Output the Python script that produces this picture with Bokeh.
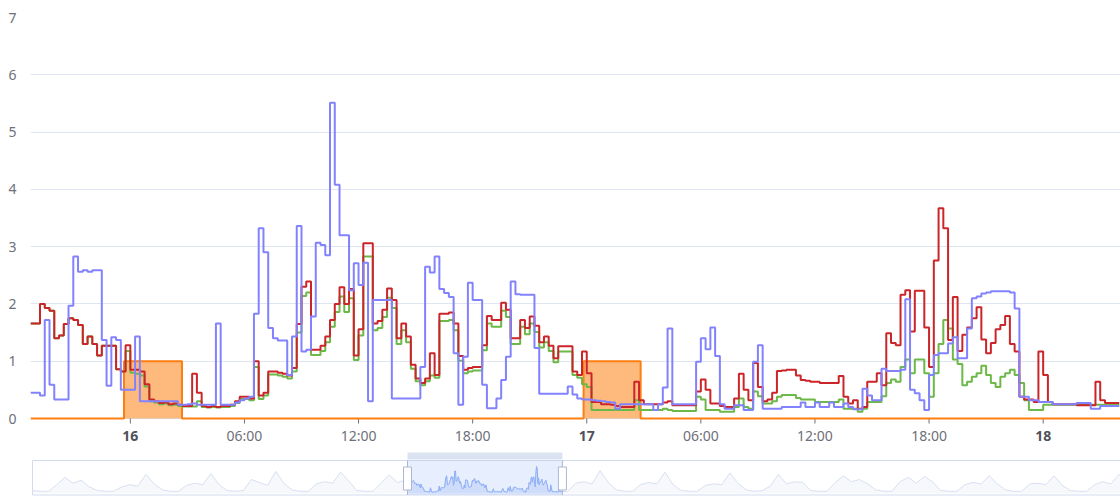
import numpy as np
from bokeh.plotting import figure
from bokeh.models import Range1d, FixedTicker
from bokeh.core.properties import value
from bokeh.layouts import column
from bokeh.embed import file_html
from bokeh.resources import INLINE

# ---------------- data ----------------
START = "2024-01-15T18:45"      # first sample, 15-minute steps
STEP_MINUTES = 15
WINDOW_END = "2024-01-18T04:04"  # right end of the zoom window

RED = [
    1.66, 1.66, 2.0, 1.93, 1.88, 1.4, 1.45, 1.65, 1.75, 1.72,
    1.63, 1.3, 1.43, 1.3, 1.1, 1.27, 1.27, 1.27, 0.86, 0.82,
    1.28, 0.85, 0.85, 0.82, 0.6, 0.33, 0.3, 0.27, 0.28, 0.25,
    0.26, 0.24, 0.22, 0.22, 0.78, 0.45, 0.22, 0.2, 0.22, 0.2,
    0.22, 0.22, 0.24, 0.3, 0.38, 0.38, 0.35, 1.0, 0.4, 0.45,
    0.82, 0.82, 0.8, 0.78, 0.75, 0.88, 1.65, 2.3, 2.39, 1.2,
    1.2, 1.27, 1.43, 1.72, 2.0, 2.29, 2.0, 2.26, 1.1, 1.56,
    3.06, 3.06, 1.66, 1.7, 1.9, 2.27, 2.07, 1.4, 1.66, 1.43,
    0.94, 0.7, 0.62, 0.7, 1.14, 0.76, 1.83, 1.83, 1.85, 1.66,
    1.09, 0.85, 0.88, 0.9, 0.9, 1.28, 1.79, 1.72, 1.72, 2.02,
    1.9, 1.4, 1.4, 1.72, 1.58, 1.78, 1.62, 1.33, 1.43, 1.27,
    1.05, 1.26, 1.26, 1.26, 0.82, 0.76, 1.17, 0.79, 0.29, 0.29,
    0.25, 0.25, 0.24, 0.22, 0.2, 0.2, 0.2, 0.64, 0.32, 0.25,
    0.25, 0.25, 0.25, 0.28, 0.3, 0.23, 0.23, 0.23, 0.23, 0.23,
    0.47, 0.68, 0.5, 0.26, 0.26, 0.22, 0.2, 0.2, 0.35, 0.78,
    0.5, 0.32, 0.97, 0.55, 0.3, 0.33, 0.45, 0.83, 0.84, 0.85,
    0.85, 0.75, 0.67, 0.66, 0.64, 0.64, 0.62, 0.62, 0.62, 0.62,
    0.74, 0.38, 0.26, 0.32, 0.17, 0.2, 0.64, 0.64, 0.79, 0.58,
    1.49, 1.32, 1.28, 2.16, 2.24, 1.52, 2.23, 2.23, 1.59, 0.9,
    2.76, 3.67, 3.32, 1.37, 2.12, 1.18, 1.46, 1.59, 1.75, 1.94,
    1.38, 1.14, 1.32, 1.56, 1.63, 1.79, 1.3, 1.17, 0.38, 0.33,
    0.33, 0.29, 1.17, 0.76, 0.29, 0.25, 0.25, 0.25, 0.25, 0.25,
    0.23, 0.23, 0.23, 0.23, 0.64, 0.32, 0.27, 0.27, 0.27, 0.27,
]

GREEN = [
    1.66, 1.66, 2.0, 1.93, 1.88, 1.4, 1.45, 1.65, 1.75, 1.72,
    1.63, 1.3, 1.43, 1.3, 1.1, 1.27, 1.27, 1.27, 0.86, 0.82,
    1.18, 0.8, 0.78, 0.75, 0.56, 0.3, 0.28, 0.25, 0.26, 0.23,
    0.24, 0.22, 0.21, 0.21, 0.21, 0.3, 0.2, 0.19, 0.2, 0.19,
    0.2, 0.2, 0.22, 0.27, 0.34, 0.34, 0.32, 0.9, 0.34, 0.4,
    0.77, 0.77, 0.75, 0.73, 0.7, 0.82, 1.5, 2.14, 2.2, 1.11,
    1.11, 1.18, 1.33, 1.6, 1.86, 2.13, 1.86, 2.1, 1.02, 1.45,
    2.83, 2.83, 1.54, 1.58, 1.77, 2.11, 1.93, 1.3, 1.54, 1.33,
    0.87, 0.65, 0.58, 0.65, 0.75, 0.71, 1.7, 1.7, 1.72, 1.54,
    1.01, 0.79, 0.82, 0.84, 0.84, 1.19, 1.66, 1.6, 1.6, 1.88,
    1.77, 1.3, 1.3, 1.6, 1.47, 1.66, 1.51, 1.24, 1.33, 1.18,
    0.98, 1.17, 1.17, 1.17, 0.76, 0.71, 0.6, 0.55, 0.15, 0.15,
    0.15, 0.15, 0.15, 0.15, 0.15, 0.15, 0.15, 0.32, 0.15, 0.15,
    0.15, 0.15, 0.15, 0.17, 0.15, 0.13, 0.13, 0.13, 0.13, 0.13,
    0.38, 0.33, 0.15, 0.15, 0.15, 0.12, 0.12, 0.12, 0.2, 0.35,
    0.2, 0.17, 0.47, 0.39, 0.26, 0.26, 0.3, 0.38, 0.41, 0.41,
    0.41, 0.36, 0.33, 0.33, 0.33, 0.29, 0.29, 0.29, 0.29, 0.29,
    0.33, 0.17, 0.17, 0.17, 0.12, 0.17, 0.29, 0.29, 0.29, 0.39,
    0.62, 0.68, 0.64, 0.9, 1.03, 0.79, 1.03, 1.03, 0.79, 0.38,
    0.79, 1.3, 1.72, 1.57, 1.03, 0.95, 0.58, 0.64, 0.73, 0.79,
    0.92, 0.76, 0.62, 0.55, 0.73, 0.79, 0.85, 0.76, 0.62, 0.32,
    0.15, 0.15, 0.15, 0.24, 0.24, 0.24, 0.24, 0.24, 0.24, 0.24,
    0.24, 0.24, 0.24, 0.24, 0.24, 0.24, 0.24, 0.24, 0.24, 0.24,
]

BLUE = [
    0.45, 0.45, 0.4, 1.72, 0.59, 0.33, 0.33, 0.33, 1.97, 2.83,
    2.56, 2.59, 2.56, 2.59, 2.59, 1.37, 0.57, 1.42, 1.37, 0.5,
    0.5, 0.5, 1.43, 0.3, 0.3, 0.3, 0.3, 0.3, 0.3, 0.3,
    0.3, 0.24, 0.24, 0.25, 0.26, 0.24, 0.24, 0.24, 0.24, 1.66,
    0.24, 0.24, 0.24, 0.28, 0.32, 0.35, 0.38, 1.83, 3.32, 2.9,
    1.58, 1.4, 1.36, 1.36, 0.76, 1.43, 3.36, 1.17, 1.2, 1.78,
    3.07, 3.03, 2.85, 5.51, 4.08, 3.2, 3.2, 2.24, 2.71, 2.33,
    2.72, 0.3, 2.07, 2.07, 2.07, 2.07, 0.35, 0.35, 0.35, 0.35,
    0.35, 0.35, 0.9, 2.65, 2.55, 2.83, 2.26, 2.19, 2.12, 1.14,
    0.24, 1.08, 2.37, 2.07, 2.07, 0.59, 0.18, 0.18, 0.35, 0.67,
    1.08, 2.39, 2.17, 2.16, 2.16, 2.16, 1.23, 0.43, 0.43, 0.43,
    0.43, 0.43, 0.43, 0.56, 0.42, 0.35, 0.33, 0.33, 0.32, 0.31,
    0.3, 0.29, 0.28, 0.17, 0.25, 0.25, 0.25, 0.25, 0.25, 0.25,
    0.25, 0.15, 0.25, 0.54, 1.57, 0.25, 0.25, 0.25, 0.25, 0.25,
    0.99, 1.4, 1.21, 1.59, 1.09, 0.25, 0.17, 0.17, 0.23, 0.23,
    0.15, 0.15, 0.99, 1.28, 0.17, 0.17, 0.17, 0.17, 0.2, 0.2,
    0.2, 0.2, 0.28, 0.2, 0.2, 0.28, 0.2, 0.2, 0.28, 0.2,
    0.2, 0.26, 0.2, 0.16, 0.16, 0.52, 0.4, 0.32, 0.32, 0.87,
    0.83, 0.83, 0.83, 0.85, 2.08, 0.5, 0.44, 0.32, 0.15, 0.76,
    1.11, 1.14, 1.14, 1.31, 1.42, 1.05, 1.05, 1.57, 2.1, 2.13,
    2.18, 2.2, 2.22, 2.22, 2.22, 2.22, 2.2, 1.92, 0.38, 0.38,
    0.32, 0.32, 0.29, 0.29, 0.29, 0.25, 0.25, 0.25, 0.25, 0.25,
    0.27, 0.27, 0.27, 0.17, 0.17, 0.22, 0.22, 0.22, 0.22, 0.22,
]

# periods where the orange flag series is 1 (0 elsewhere)
ORANGE_PERIODS = [
    ("2024-01-15T23:40", "2024-01-16T02:43"),
    ("2024-01-16T23:50", "2024-01-17T02:50"),
]

X_TICK_TIMES = ["2024-01-16T00:00", "2024-01-16T06:00", "2024-01-16T12:00",
                "2024-01-16T18:00", "2024-01-17T00:00", "2024-01-17T06:00",
                "2024-01-17T12:00", "2024-01-17T18:00", "2024-01-18T00:00"]
X_TICK_LABELS = ["16", "06:00", "12:00", "18:00", "17", "06:00", "12:00", "18:00", "18"]
Y_TICKS = [0, 1, 2, 3, 4, 5, 6, 7]

# overview (data-zoom background) outside the detailed window, 3-hour steps
OVERVIEW_BEFORE_START = "2024-01-10T00:00"
OVERVIEW_BEFORE = [
    0.4, 0.3, 0.3, 1.2, 2.2, 1.4, 1.8, 0.9,
    0.4, 0.3, 0.3, 0.9, 1.2, 1.0, 2.6, 1.3,
    0.5, 0.3, 0.3, 1.1, 1.4, 1.2, 2.7, 1.2,
    0.4, 0.3, 0.4, 1.9, 1.5, 1.1, 3.0, 1.4,
    0.5, 0.3, 0.3, 1.3, 1.6, 1.4, 2.9, 1.7,
    0.4, 0.3, 0.3, 1.4, 2.5, 1.5, 1.8,
]
OVERVIEW_AFTER_START = "2024-01-18T06:00"
OVERVIEW_AFTER = [
    0.3, 1.4, 1.6, 1.3, 3.1, 1.5,
    0.5, 0.3, 0.3, 1.2, 1.5, 1.3, 2.9, 1.2,
    0.4, 0.3, 0.3, 1.1, 1.3, 1.2, 2.8, 1.4,
    0.5, 0.3, 0.4, 1.0, 2.6, 1.3, 1.6, 1.5,
    0.4, 0.3, 0.3, 1.5, 2.4, 1.6, 1.9, 1.3,
    0.5, 0.3, 0.3, 1.6, 2.2, 1.4, 2.3, 1.6,
    0.4, 0.3, 0.3, 1.2, 1.5, 1.3, 2.4, 1.3,
    0.5, 0.3, 0.3, 1.3, 1.4, 1.2, 2.4, 1.1,
    0.4, 0.3, 0.3, 1.2, 1.6, 1.3, 2.6, 1.2,
    0.4,
]
OVERVIEW_STEP_HOURS = 3

assert len(RED) == len(GREEN) == len(BLUE) == 230

# ---------------- styles ----------------
C_RED = "#cc2529"
C_GREEN = "#6cb848"
C_BLUE = "#8282ff"
C_ORANGE = "#fd7f12"
C_AXIS = "#6e7079"
C_DAY = "#505259"
C_GRID = "#e0e6f1"
FONT = "Noto Sans"
FONT_SIZE = "14px"

W = 1120
MAIN_H = 450          # main chart occupies page rows 0..450
FRAME_TOP = 17        # page row of the value 7 gridline
ZERO_ROW = 418        # page row of the value 0 line
PLOT_LEFT = 28


def ms(s):
    return float(np.datetime64(s, "ms").astype(np.int64))


HOUR = 3600 * 1000.0
t0 = ms(START)
times = [t0 + i * STEP_MINUTES * 60 * 1000.0 for i in range(len(RED))]
w0, w1 = t0, ms(WINDOW_END)

# orange flag series as step data
ox, oy = [times[0]], [0]
for a, b in ORANGE_PERIODS:
    ox += [ms(a), ms(b)]
    oy += [1, 0]
ox.append(w1)
oy.append(0)

# ---------------- main chart ----------------
ppu = (ZERO_ROW - FRAME_TOP) / 7.0          # pixels per value unit
y_bottom = -(MAIN_H - ZERO_ROW) / ppu       # frame extends down to hold the time labels

p = figure(width=W, height=MAIN_H, x_range=Range1d(w0, w1), y_range=Range1d(y_bottom, 7),
           output_backend="svg", toolbar_location=None, x_axis_location=None,
           min_border_left=PLOT_LEFT, min_border_right=0,
           min_border_top=FRAME_TOP, min_border_bottom=0)
p.outline_line_color = None
p.background_fill_color = "white"
p.border_fill_color = "white"

p.xgrid.grid_line_color = None
p.ygrid.ticker = FixedTicker(ticks=Y_TICKS)
p.ygrid.grid_line_color = C_GRID
p.ygrid.grid_line_width = 1

p.yaxis.ticker = FixedTicker(ticks=Y_TICKS)
p.yaxis.axis_line_color = None
p.yaxis.major_tick_line_color = None
p.yaxis.minor_tick_line_color = None
p.yaxis.major_label_standoff = 8
p.yaxis.major_label_text_color = C_AXIS
p.yaxis.major_label_text_font = FONT
p.yaxis.major_label_text_font_size = FONT_SIZE

# time axis: ticks and labels placed with the chart's own time scale
tick_ms = [ms(s) for s in X_TICK_TIMES]
p.segment(x0=tick_ms, y0=[0] * len(tick_ms), x1=tick_ms, y1=[-5 / ppu] * len(tick_ms),
          line_color=C_AXIS, line_width=1)
hour_x = [tm for tm, lab in zip(tick_ms, X_TICK_LABELS) if ":" in lab]
hour_t = [lab for lab in X_TICK_LABELS if ":" in lab]
day_x = [tm for tm, lab in zip(tick_ms, X_TICK_LABELS) if ":" not in lab]
day_t = [lab for lab in X_TICK_LABELS if ":" not in lab]
label_y = -(435 - ZERO_ROW) / ppu
p.text(x=hour_x, y=[label_y] * len(hour_x), text=hour_t, text_align="center",
       text_baseline="middle", text_font=value(FONT), text_font_size=FONT_SIZE,
       text_color=C_AXIS)
p.text(x=day_x, y=[label_y] * len(day_x), text=day_t, text_align="center",
       text_baseline="middle", text_font=value(FONT), text_font_size=FONT_SIZE,
       text_font_style="bold", text_color=C_DAY)

p.varea_step(x=ox, y1=[0] * len(oy), y2=oy, step_mode="after",
             fill_color=C_ORANGE, fill_alpha=0.55)
p.step(x=ox, y=oy, mode="after", line_color=C_ORANGE, line_width=2)
p.step(x=times, y=GREEN, mode="after", line_color=C_GREEN, line_width=2)
p.step(x=times, y=RED, mode="after", line_color=C_RED, line_width=2)
p.step(x=times, y=BLUE, mode="after", line_color=C_BLUE, line_width=2)

# ---------------- data-zoom slider ----------------
bx = [ms(OVERVIEW_BEFORE_START) + i * OVERVIEW_STEP_HOURS * HOUR for i in range(len(OVERVIEW_BEFORE))]
ax = [ms(OVERVIEW_AFTER_START) + i * OVERVIEW_STEP_HOURS * HOUR for i in range(len(OVERVIEW_AFTER))]
ov_x = bx + times + ax
ov_y = OVERVIEW_BEFORE + RED + OVERVIEW_AFTER

S_TOP, S_H = MAIN_H, 496 - MAIN_H     # page rows 450..496
S_LEFT = 30
data_start = ov_x[0]
mpp = (w0 - data_start) / (407 - 32)     # ms per pixel: data start at col 32, window at col 407
s_range = Range1d(data_start - (32 - S_LEFT) * mpp, data_start + (W - 32) * mpp)

vmax = max(ov_y)
spu = (493 - 466) / vmax                  # slider pixels per value unit


def srow(row):
    """page row -> slider data value"""
    return (493 - row) / spu


s = figure(width=W, height=S_H, x_range=s_range,
           y_range=Range1d(srow(S_TOP + S_H), srow(S_TOP)),
           output_backend="svg", toolbar_location=None,
           min_border_left=S_LEFT, min_border_right=0, min_border_top=0, min_border_bottom=0,
           x_axis_location=None, y_axis_location=None)
s.outline_line_color = None
s.xgrid.grid_line_color = None
s.ygrid.grid_line_color = None
s.background_fill_color = "white"
s.border_fill_color = "white"

box_b, box_t = srow(494.5), srow(460)
s.quad(left=[data_start], right=[ov_x[-1] + 50 * HOUR], bottom=[box_b], top=[box_t],
       fill_color=None, line_color="#d2dbee", line_width=1)
s.varea(x=ov_x, y1=[0] * len(ov_y), y2=ov_y, fill_color="#d2dbee", fill_alpha=0.2)
s.line(x=ov_x, y=ov_y, line_color="#d8dff0", line_width=1)

sel_x = [x for x in ov_x if w0 <= x <= w1]
sel_y = [y for x, y in zip(ov_x, ov_y) if w0 <= x <= w1]
s.quad(left=[w0], right=[w1], bottom=[box_b], top=[box_t],
       fill_color="#87afff", fill_alpha=0.2, line_color=None)
s.varea(x=sel_x, y1=[0] * len(sel_y), y2=sel_y, fill_color="#8fb0f7", fill_alpha=0.2)
s.line(x=sel_x, y=sel_y, line_color="#8fb0f7", line_width=1)
s.quad(left=[w0], right=[w1], bottom=[srow(459)], top=[srow(452)],
       fill_color="#d2dbee", fill_alpha=0.8, line_color=None)
s.segment(x0=[w0, w1], y0=[box_b, box_b], x1=[w0, w1], y1=[box_t, box_t],
          line_color="#acb8d1", line_width=1)
s.rect(x=[w0, w1], y=[srow(478)] * 2, width=8, height=23,
       width_units="screen", height_units="screen",
       fill_color="white", line_color="#acb8d1", line_width=1)

layout = column(p, s, spacing=0)
open("out.html", "w").write(file_html(layout, INLINE))
